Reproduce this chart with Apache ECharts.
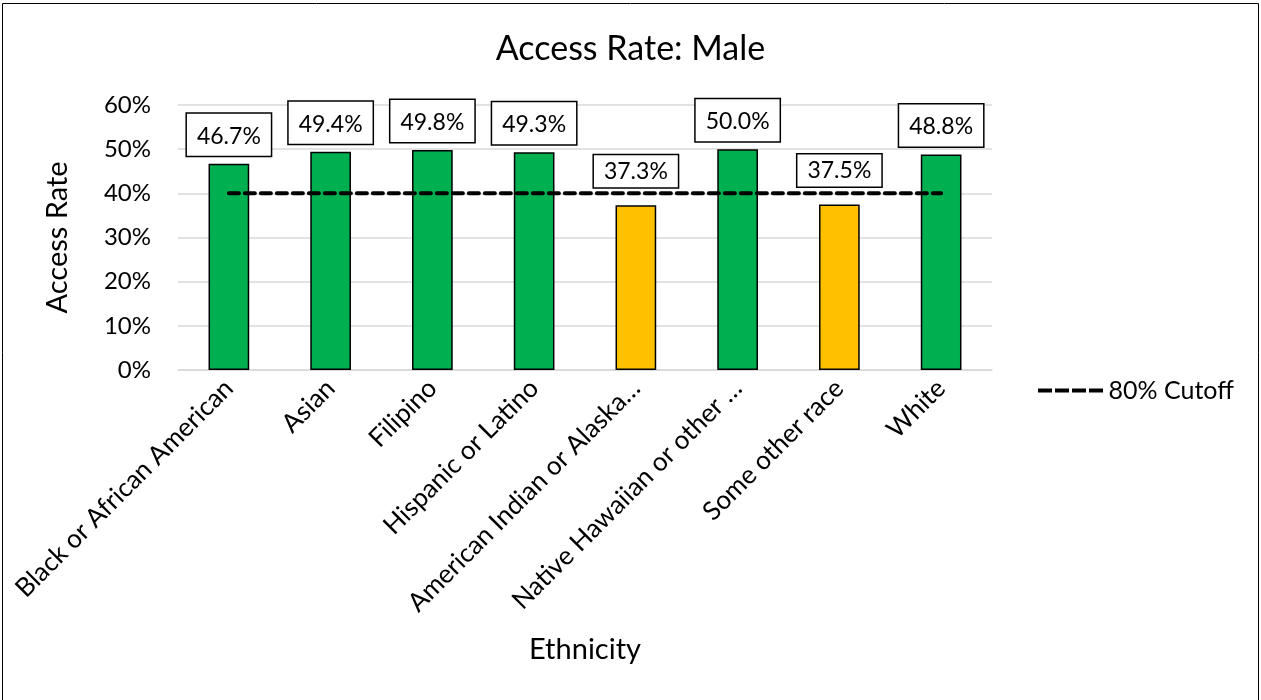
<!DOCTYPE html>
<html><head><meta charset="utf-8">
<script src="https://cdn.jsdelivr.net/npm/echarts@6/dist/echarts.min.js"></script>
<style>html,body{margin:0;padding:0;background:#fff}#c{width:1261px;height:700px}</style>
</head><body><div id="c"></div>
<script>
const categories = ["Black or African American","Asian","Filipino","Hispanic or Latino","American Indian or Alaska…","Native Hawaiian or other …","Some other race","White"];
const accessRate = [46.7,49.4,49.8,49.3,37.3,50.0,37.5,48.8];
const cutoff = [40,40,40,40,40,40,40,40];
const belowCutoff = [false,false,false,false,true,false,true,false];
const yTicks = {min:0,max:60,interval:10};
const FONT = 'Lato';
const chart = echarts.init(document.getElementById('c'));
const barData = accessRate.map((v,i)=>({value:v,itemStyle:{color: belowCutoff[i]?'#FFC000':'#00B050'}}));
const labelData = accessRate.map((v,i)=>({value:v,label:{distance: belowCutoff[i]?18:8, padding: belowCutoff[i]?[5,10,4,10]:[11,10,8,10]}}));
chart.setOption({
  animation:false,
  textStyle:{fontFamily:FONT,color:'#000'},
  graphic:[{type:'rect',shape:{x:2.5,y:3.5,width:1256,height:720},style:{fill:'none',stroke:'#000',lineWidth:1},silent:true}],
  title:{text:'Access Rate: Male',left:'center',top:27,textStyle:{fontFamily:FONT,fontSize:34,fontWeight:'normal',color:'#000'}},
  legend:{data:[{name:'80% Cutoff',icon:'path://M0,0h14v4h-14z M17,0h14v4h-14z M34,0h14v4h-14z M51,0h14v4h-14z'}],
    left:1033,top:373,itemWidth:66,itemHeight:4,itemGap:8,
    textStyle:{fontFamily:FONT,fontSize:25,color:'#000'}},
  grid:{left:178,right:269,top:105,bottom:330},
  xAxis:{type:'category',data:categories,
    name:'Ethnicity',nameLocation:'middle',nameGap:265,nameTextStyle:{fontFamily:FONT,fontSize:29,color:'#000'},
    axisLine:{show:true,lineStyle:{color:'#d9d9d9',width:1.5}},axisTick:{show:false},
    axisLabel:{interval:0,rotate:45,margin:14,fontFamily:FONT,fontSize:26,color:'#000'}},
  yAxis:{type:'value',min:yTicks.min,max:yTicks.max,interval:yTicks.interval,
    name:'Access Rate',nameLocation:'middle',nameGap:106,nameTextStyle:{fontFamily:FONT,fontSize:29,color:'#000'},
    axisLine:{show:false},axisTick:{show:false},
    axisLabel:{formatter:'{value}%',margin:27,fontFamily:FONT,fontSize:24,color:'#000'},
    splitLine:{lineStyle:{color:'#d9d9d9',width:1.5}}},
  series:[
    {name:'Access Rate',type:'bar',data:barData,barWidth:'40%',z:2,
      itemStyle:{borderColor:'#000',borderWidth:1.5}},
    {name:'80% Cutoff',type:'line',data:cutoff,symbol:'none',z:3,
      lineStyle:{color:'#000',width:4,type:[10,6],cap:'round'},itemStyle:{color:'#000'}},
    {name:'labels',type:'bar',data:labelData,barWidth:'40%',barGap:'-100%',z:4,
      itemStyle:{color:'rgba(0,0,0,0)'},
      label:{show:true,position:'top',formatter:(p)=>p.value.toFixed(1)+'%',fontFamily:FONT,fontSize:23,color:'#000',
        backgroundColor:'#fff',borderColor:'#000',borderWidth:1.5}}
  ]
});
</script></body></html>
